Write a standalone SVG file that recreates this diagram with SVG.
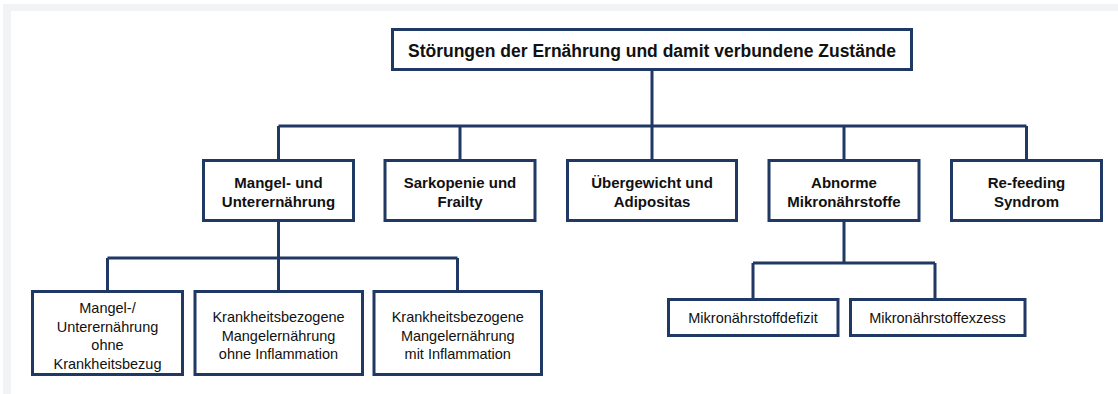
<svg xmlns="http://www.w3.org/2000/svg" width="1118" height="394" viewBox="0 0 1118 394">
<style>
.box{fill:#ffffff;stroke:#203864;stroke-width:3}
.con{fill:none;stroke:#203864;stroke-width:3}
.t{font-family:"Liberation Sans",Arial,sans-serif;fill:#111111;text-anchor:middle}
.b{font-weight:bold;font-size:15px}
.r{font-size:14.5px}
.title{font-weight:bold;font-size:17.5px}
</style>
<rect x="0" y="0" width="1118" height="394" fill="#ffffff"/>
<rect x="3" y="4" width="1115" height="7" fill="#f2f3f5"/>
<rect x="3" y="4" width="8" height="390" fill="#f2f3f5"/>
<g id="connectors">
<path class="con" d="M652,70 V126 M278.5,126 H1026.5 M278.5,126 V160 M460,126 V160 M652,126 V160 M844,126 V160 M1026.5,126 V160"/>
<path class="con" d="M278.5,221 V258 M107.5,258 H457.5 M107.5,258 V291 M278.5,258 V291 M457.5,258 V291"/>
<path class="con" d="M844,221 V263 M753,263 H935 M753,263 V299 M935,263 V299"/>
</g>
<g id="root">
<rect class="box" x="392.5" y="29.5" width="519" height="40"/>
<text class="t title" x="652" y="56.5">Störungen der Ernährung und damit verbundene Zustände</text>
</g>
<g id="mangel">
<rect class="box" x="203.5" y="160.5" width="150" height="60"/>
<text class="t b" x="278.5" y="188">Mangel- und</text>
<text class="t b" x="278.5" y="207">Unterernährung</text>
</g>
<g id="sarkopenie">
<rect class="box" x="385" y="160.5" width="150" height="60"/>
<text class="t b" x="460" y="188">Sarkopenie und</text>
<text class="t b" x="460" y="207">Frailty</text>
</g>
<g id="uebergewicht">
<rect class="box" x="567.5" y="160.5" width="169" height="60"/>
<text class="t b" x="652" y="188">Übergewicht und</text>
<text class="t b" x="652" y="207">Adipositas</text>
</g>
<g id="mikro">
<rect class="box" x="769" y="160.5" width="150" height="60"/>
<text class="t b" x="844" y="188">Abnorme</text>
<text class="t b" x="844" y="207">Mikronährstoffe</text>
</g>
<g id="refeeding">
<rect class="box" x="951.5" y="160.5" width="150" height="60"/>
<text class="t b" x="1026.5" y="188">Re-feeding</text>
<text class="t b" x="1026.5" y="207">Syndrom</text>
</g>
<g id="ohne-krankheit">
<rect class="box" x="32.5" y="291.5" width="150" height="83"/>
<text class="t r" x="107.5" y="313">Mangel-/</text>
<text class="t r" x="107.5" y="331.5">Unterernährung</text>
<text class="t r" x="107.5" y="350">ohne</text>
<text class="t r" x="107.5" y="368.5">Krankheitsbezug</text>
</g>
<g id="ohne-inflammation">
<rect class="box" x="195" y="291.5" width="167.5" height="83"/>
<text class="t r" x="278.5" y="322">Krankheitsbezogene</text>
<text class="t r" x="278.5" y="340.5">Mangelernährung</text>
<text class="t r" x="278.5" y="359">ohne Inflammation</text>
</g>
<g id="mit-inflammation">
<rect class="box" x="374" y="291.5" width="167.5" height="83"/>
<text class="t r" x="457.75" y="322">Krankheitsbezogene</text>
<text class="t r" x="457.75" y="340.5">Mangelernährung</text>
<text class="t r" x="457.75" y="359">mit Inflammation</text>
</g>
<g id="defizit">
<rect class="box" x="668.5" y="299.5" width="169.5" height="36"/>
<text class="t r" x="753" y="323">Mikronährstoffdefizit</text>
</g>
<g id="exzess">
<rect class="box" x="850.5" y="299.5" width="174.5" height="36"/>
<text class="t r" x="937.5" y="323">Mikronährstoffexzess</text>
</g>
</svg>
